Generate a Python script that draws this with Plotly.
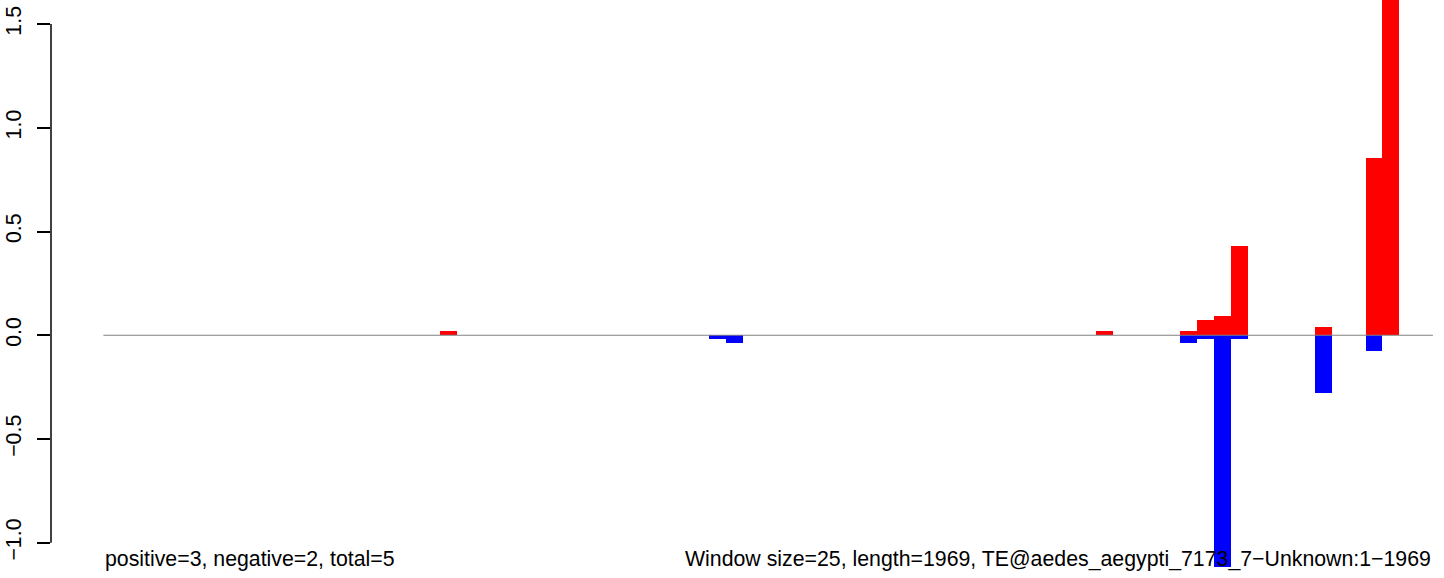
import plotly.graph_objects as go

# ---- data (79 windows of 25 bp over length 1969) ----
n_windows = 79
pos_index = [20, 59, 64, 65, 66, 67, 72, 75, 76]
pos_value = [0.019, 0.019, 0.019, 0.072, 0.092, 0.429, 0.039, 0.853, 1.9]
neg_index = [36, 37, 64, 65, 66, 67, 72, 75]
neg_value = [-0.019, -0.039, -0.039, -0.019, -1.116, -0.019, -0.28, -0.077]

ytick_vals = [-1.0, -0.5, 0.0, 0.5, 1.0, 1.5]
ytick_text = ["\u22121.0", "\u22120.5", "0.0", "0.5", "1.0", "1.5"]

left_label = "positive=3, negative=2, total=5"
right_label = "Window size=25, length=1969, TE@aedes_aegypti_7173_7\u2212Unknown:1\u22121969"

positive = [0.0] * n_windows
negative = [0.0] * n_windows
for i, v in zip(pos_index, pos_value):
    positive[i] = v
for i, v in zip(neg_index, neg_value):
    negative[i] = v
xs = list(range(n_windows))

FONT = "Liberation Sans, Arial, Helvetica, sans-serif"
FS = 21.3

fig = go.Figure()
fig.add_trace(go.Bar(x=xs, y=positive, width=1, marker=dict(color="#FF0000", line=dict(width=0)),
                     showlegend=False, hoverinfo="skip"))
fig.add_trace(go.Bar(x=xs, y=negative, width=1, marker=dict(color="#0000FF", line=dict(width=0)),
                     showlegend=False, hoverinfo="skip"))

# zero line across the bars
fig.add_shape(type="line", xref="x", yref="y", x0=-0.5, x1=n_windows - 0.5, y0=0, y1=0,
              line=dict(color="#808080", width=1.2), layer="above")
# R-style y axis line spanning tick range
fig.add_shape(type="line", xref="paper", yref="y", x0=0, x1=0, y0=ytick_vals[0], y1=ytick_vals[-1],
              line=dict(color="black", width=1.5), layer="above")

fig.add_annotation(x=-0.5, y=-1.078, xref="x", yref="y", text=left_label, showarrow=False,
                   xanchor="left", yanchor="middle", font=dict(family=FONT, size=FS, color="black"))
fig.add_annotation(x=n_windows - 0.5, y=-1.078, xref="x", yref="y", text=right_label, showarrow=False,
                   xanchor="right", yanchor="middle", font=dict(family=FONT, size=FS, color="black"))

fig.update_layout(
    width=1444, height=578,
    margin=dict(l=51, r=0, t=0, b=0, autoexpand=False),
    paper_bgcolor="white", plot_bgcolor="white",
    barmode="overlay", bargap=0,
    font=dict(family=FONT, size=FS, color="black"),
    xaxis=dict(range=[-3.613, 79.16], visible=False, fixedrange=True, automargin=False),
    yaxis=dict(range=[-1.1699, 1.6157], tickvals=ytick_vals, ticktext=ytick_text,
               ticks="outside", ticklen=13, tickwidth=1.5, tickcolor="black",
               tickangle=-90, showline=False, showgrid=False, zeroline=False,
               ticklabelstandoff=7, tickfont=dict(family=FONT, size=FS, color="black"),
               fixedrange=True, automargin=False),
)

fig.write_html("out.html", config={"displayModeBar": False},
               post_script="document.body.style.margin='0';document.body.style.overflow='hidden';")
